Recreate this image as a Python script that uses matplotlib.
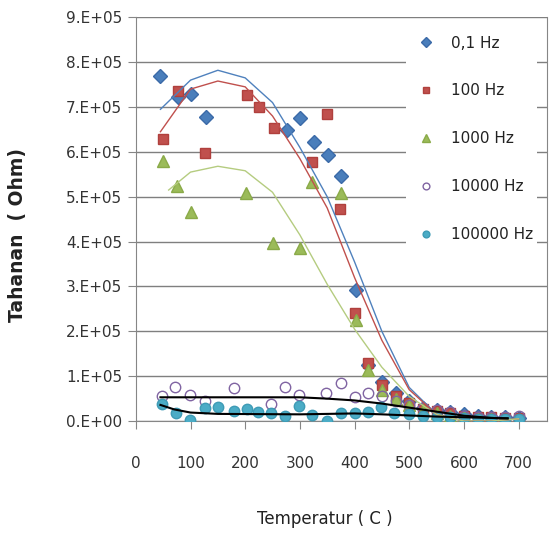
import numpy as np
import matplotlib.pyplot as plt

# measured points (temperature in C, resistance in Ohm / 1e5)
t_01 = [45, 77, 100, 128, 277, 301, 325, 352, 376, 403, 425, 450, 475, 500, 525, 550, 575, 600, 625, 650, 675, 700]
r_01 = [7.69, 7.22, 7.29, 6.78, 6.49, 6.75, 6.22, 5.93, 5.46, 2.92, 1.25, 0.87, 0.62, 0.45, 0.30, 0.25, 0.20, 0.15, 0.12, 0.10, 0.08, 0.07]

t_100 = [49, 77, 126, 203, 226, 252, 323, 349, 374, 400, 425, 450, 475, 500, 525, 550, 575, 600, 625, 650, 675, 700]
r_100 = [6.29, 7.36, 5.97, 7.27, 7.00, 6.53, 5.77, 6.84, 4.72, 2.40, 1.29, 0.80, 0.55, 0.40, 0.28, 0.22, 0.18, 0.12, 0.10, 0.08, 0.07, 0.06]

t_1k = [49, 75, 100, 201, 250, 301, 323, 376, 403, 425, 450, 475, 500, 525, 550, 575, 600, 625, 650, 675, 700]
r_1k = [5.80, 5.24, 4.66, 5.08, 3.97, 3.86, 5.33, 5.08, 2.25, 1.14, 0.70, 0.50, 0.35, 0.25, 0.18, 0.12, 0.08, 0.05, 0.04, 0.03, 0.03]

t_10k = [47, 72, 99, 126, 179, 248, 273, 299, 348, 376, 401, 425, 450, 475, 500, 525, 550, 575, 600, 625, 650, 675, 700]
r_10k = [0.55, 0.76, 0.58, 0.45, 0.74, 0.38, 0.76, 0.58, 0.62, 0.85, 0.53, 0.62, 0.55, 0.45, 0.35, 0.30, 0.25, 0.20, 0.12, 0.10, 0.08, 0.10, 0.12]

t_100k = [47, 73, 99, 126, 151, 179, 203, 224, 248, 272, 299, 323, 349, 376, 401, 425, 449, 473, 500, 525, 550, 575, 600, 625, 650, 675, 700]
r_100k = [0.38, 0.18, 0.02, 0.29, 0.31, 0.22, 0.26, 0.20, 0.18, 0.11, 0.33, 0.13, 0.00, 0.18, 0.18, 0.20, 0.31, 0.18, 0.15, 0.12, 0.10, 0.08, 0.06, 0.05, 0.04, 0.05, 0.04]

# trend lines
trend_t = [45, 100, 150, 200, 250, 300, 350, 400, 450, 500, 550, 600, 650, 700]
trend_01 = [6.95, 7.60, 7.82, 7.65, 7.10, 6.10, 5.00, 3.55, 2.00, 0.75, 0.15, 0.00, 0.00, 0.05]
trend_100 = [6.45, 7.40, 7.58, 7.45, 6.80, 5.85, 4.75, 3.20, 1.80, 0.70, 0.15, 0.00, 0.00, 0.05]
trend_1k_t = [60, 100, 150, 200, 250, 300, 350, 400, 450, 500, 550, 600, 650, 700]
trend_1k = [5.15, 5.55, 5.68, 5.58, 5.10, 4.15, 3.05, 2.05, 1.20, 0.55, 0.15, 0.00, 0.00, 0.05]
trend_10k_t = [45, 300, 350, 400, 450, 500, 550, 600, 650, 680]
trend_10k = [0.53, 0.53, 0.50, 0.46, 0.39, 0.30, 0.21, 0.12, 0.07, 0.06]
trend_100k_t = [45, 70, 100, 150, 300, 400, 450, 550, 650, 680]
trend_100k = [0.36, 0.26, 0.19, 0.16, 0.15, 0.17, 0.15, 0.10, 0.07, 0.06]

labels = ["0,1 Hz", "100 Hz", "1000 Hz", "10000 Hz", "100000 Hz"]
yticks = [0, 1, 2, 3, 4, 5, 6, 7, 8, 9]
ytick_labels = ["0.E+00", "1.E+05", "2.E+05", "3.E+05", "4.E+05",
                "5.E+05", "6.E+05", "7.E+05", "8.E+05", "9.E+05"]
xticks = [0, 100, 200, 300, 400, 500, 600, 700]

fig = plt.figure(figsize=(5.5, 5.33), dpi=100)
ax = fig.add_axes([0.247, 0.21, 0.7475, 0.7575])

s = 1e5
ax.plot(t_01, np.array(r_01) * s, ls="none", marker="D", ms=7.5, color="#4A7EBB",
        mec="#3B6AA8", label=labels[0], zorder=3)
ax.plot(t_100, np.array(r_100) * s, ls="none", marker="s", ms=7, color="#C0504D",
        mec="#B0403D", label=labels[1], zorder=3)
ax.plot(t_1k, np.array(r_1k) * s, ls="none", marker="^", ms=8.5, color="#9BBB59",
        mec="#8AAA48", label=labels[2], zorder=3)
ax.plot(t_10k, np.array(r_10k) * s, ls="none", marker="o", ms=7.5, mfc="none",
        mec="#8064A2", mew=1, label=labels[3], zorder=3)
ax.plot(t_100k, np.array(r_100k) * s, ls="none", marker="o", ms=7.5, color="#4BACC6",
        mec="#3E9BB5", label=labels[4], zorder=3)

ax.plot(trend_t, np.array(trend_01) * s, color="#4F81BD", lw=1, zorder=4)
ax.plot(trend_t, np.array(trend_100) * s, color="#C0504D", lw=1, zorder=4)
ax.plot(trend_1k_t, np.array(trend_1k) * s, color="#B5CC80", lw=1, zorder=4)
ax.plot(trend_10k_t, np.array(trend_10k) * s, color="black", lw=1.5, zorder=4)
ax.plot(trend_100k_t, np.array(trend_100k) * s, color="black", lw=1.5, zorder=4)

ax.set_xlim(0, 752)
ax.set_ylim(0, 9e5)
ax.set_yticks(np.array(yticks) * s)
ax.set_yticklabels(ytick_labels)
ax.set_xticks(xticks)
ax.grid(axis="y", color="#7F7F7F", lw=1)
ax.set_axisbelow(True)

ax.spines["top"].set_visible(False)
for side in ["left", "bottom", "right"]:
    ax.spines[side].set_color("#868686")

ax.tick_params(axis="y", length=6, color="#868686", labelsize=11, labelcolor="#333333", pad=4)
ax.tick_params(axis="x", length=6, color="#868686", labelsize=11, labelcolor="#333333", pad=19)

ax.set_xlabel("Temperatur ( C )", fontsize=12, color="#222222")
ax.xaxis.set_label_coords(0.46, -0.22)
ax.set_ylabel("Tahanan  ( Ohm)", fontsize=13.5, fontweight="bold", color="#222222")
ax.yaxis.set_label_coords(-0.265, 0.46)

leg = ax.legend(loc="upper right", bbox_to_anchor=(0.995, 0.985), frameon=True,
                facecolor="white", edgecolor="none", framealpha=1, fontsize=11,
                labelspacing=2.15, handletextpad=0.6, borderpad=0.3, markerscale=0.65)
for txt in leg.get_texts():
    txt.set_color("#222222")

fig.savefig("out.png", dpi=100)
